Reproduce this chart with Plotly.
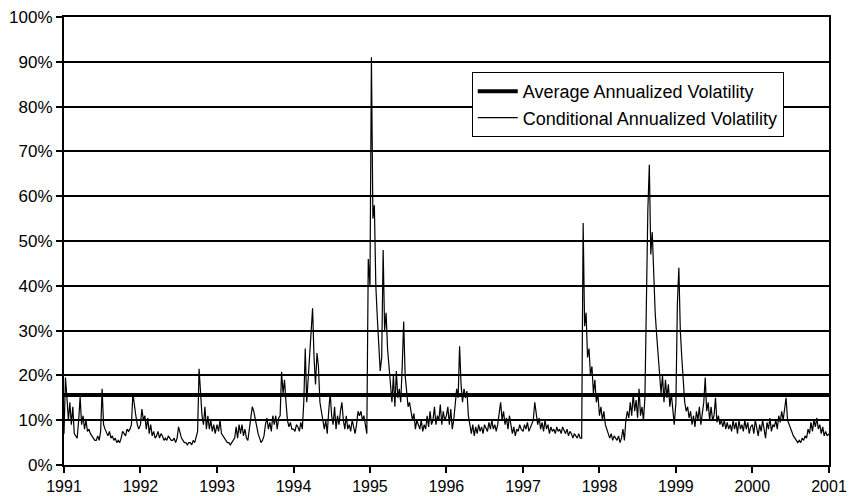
import pandas as pd
import plotly.graph_objects as go

# weekly conditional annualized volatility (%)
vol_1991 = [7, 19.5, 15, 10, 14, 9, 13, 7, 6.5, 6, 10, 15.2, 9, 11, 8, 10, 7.5, 8, 7, 6.5,
            6, 5.5, 5.5, 6.5, 5.5, 7.5, 17, 9, 8, 7, 6.5, 7.5, 6, 6.5, 5.5, 6, 5, 5.5, 5, 6,
            7.5, 7, 6.5, 8, 7.5, 8, 9, 16, 13, 11, 9, 8]
vol_1992 = [9, 12.5, 10, 11, 8, 10.5, 7, 9, 6.5, 7.5, 6, 6.5, 7.5, 6, 7, 6.5, 5.5, 6, 5.5, 6.5,
            6, 5.5, 5.5, 6, 5, 6, 8.5, 7, 6, 5.5, 5, 5, 4.5, 5, 5, 4.5, 5.5, 5, 6.5, 7.5,
            21.5, 15, 11, 9, 13, 8, 11, 8, 10, 7.5, 9, 7]
vol_1993 = [9, 7.5, 10, 7, 6.5, 6, 5.5, 5, 5, 4.5, 5, 5.5, 6, 8.5, 6, 9, 7, 9, 6.5, 8,
            6, 5.5, 8, 11, 13, 12, 10, 8, 7, 6, 5, 5.5, 6.5, 9, 10.5, 8, 9.5, 7.5, 11, 9,
            11, 8, 10.5, 11, 20.8, 16, 19, 14, 10, 8.5, 9.5, 8]
vol_1994 = [8, 7.5, 9, 8.5, 7.5, 9.5, 8, 14, 26, 14, 20, 26, 30, 35, 24, 18, 25, 22, 14, 12,
            9, 8, 10, 7, 12, 16, 11, 9, 13, 8, 11, 9, 12, 14, 10, 8, 11, 8, 9, 7.5,
            10, 8, 7, 9, 12, 11, 12, 10, 11, 9, 7, 46]
vol_1995 = [40, 91, 55, 58, 40, 33, 25, 21, 24, 48, 30, 34, 26, 22, 19, 14, 20, 13, 21, 15,
            17, 14, 22, 32, 20, 17, 13, 14, 12, 10, 11.5, 8, 10, 9, 8, 10, 7.5, 9, 8, 11,
            8.5, 12, 9, 10, 13, 9, 11, 10, 13.5, 9, 12, 10]
vol_1996 = [11, 13, 9, 12.5, 8, 10, 14, 17, 15, 26.5, 18, 14, 17, 15, 16.5, 11, 9, 7, 9, 6.5,
            8.5, 7, 9, 7.5, 8.5, 7, 9, 8, 7.5, 9.5, 8, 10, 8, 9, 7.5, 9, 11, 14, 10, 12,
            9, 10.5, 8, 11, 9, 7, 8.5, 6.5, 8, 7.5, 9, 8]
vol_1997 = [7.5, 9, 8, 9.5, 7.5, 8.5, 9, 10, 14, 11, 9, 10.5, 8, 9.5, 7.5, 10, 8, 9, 7, 8.5,
            7.5, 8, 7, 8.5, 7.5, 8, 7, 8.5, 7.5, 7, 8, 6.5, 7.5, 7, 6, 7, 6.5, 6, 7, 6,
            6, 54, 31, 34, 24, 26, 20, 22, 16, 19, 14, 16]
vol_1998 = [11, 13, 10, 12, 9, 8, 7, 6, 7, 5.5, 6.5, 6, 5.5, 6.5, 5, 6, 8, 5.5, 10, 12,
            10.5, 14, 11, 16, 12, 14.5, 10.5, 17, 11, 13, 10, 15, 38, 57, 67, 47, 52, 40, 34, 29,
            24, 20, 16, 20, 14, 19, 15, 18, 13, 16, 12, 9]
vol_1999 = [14, 36, 44, 30, 24, 19, 14, 12, 13, 10.5, 12, 9, 11, 8.5, 12, 10, 13, 9, 11, 14,
            19.5, 12, 14, 10, 13, 10, 11, 15, 9.5, 11, 9, 10, 8.5, 10, 8, 9.5, 8, 9, 7.5, 10,
            8, 9.5, 7, 10, 8, 9, 7.5, 10, 8, 9.5, 7, 8.5]
vol_2000 = [9, 7, 10, 8, 6.5, 9, 7.5, 10, 8, 6, 9.5, 8, 10.5, 7.5, 9, 8.5, 10, 8, 11, 9.5,
            12, 10, 12.5, 15, 10, 9, 8, 7, 6.5, 6, 5.5, 5, 5.5, 5, 6, 5.5, 6.5, 6, 8, 7,
            9.5, 7.5, 10, 8.5, 10.5, 8, 9, 7, 8.5, 6.5, 7.5, 6.5]
vol_end = 7

years = list(range(1991, 2001))
yearly = [vol_1991, vol_1992, vol_1993, vol_1994, vol_1995,
          vol_1996, vol_1997, vol_1998, vol_1999, vol_2000]

avg_vol = 15.6

dates = []
values = []
for yr, vals in zip(years, yearly):
    dates += list(pd.date_range(f"{yr}-01-01", periods=len(vals), freq="7D"))
    values += vals
dates.append(pd.Timestamp("2001-01-01"))
values.append(vol_end)

fig = go.Figure()

fig.add_trace(go.Scatter(
    x=[dates[0], dates[-1]],
    y=[avg_vol, avg_vol],
    mode="lines",
    line=dict(color="black", width=4),
    name="Average Annualized Volatility",
))

fig.add_trace(go.Scatter(
    x=dates,
    y=values,
    mode="lines",
    line=dict(color="black", width=1.2),
    name="Conditional Annualized Volatility",
))

fig.update_layout(
    width=849,
    height=496,
    plot_bgcolor="white",
    paper_bgcolor="white",
    font=dict(family="Liberation Sans, Arial, sans-serif", size=17, color="black"),
    margin=dict(l=64, r=20, t=17, b=31),
    legend=dict(
        x=0.533, y=0.877, xanchor="left", yanchor="top",
        bgcolor="white", bordercolor="black", borderwidth=1,
        font=dict(size=18),
        itemwidth=40,
        tracegroupgap=0,
    ),
)

fig.update_xaxes(
    type="date",
    range=["1991-01-01", "2001-01-01"],
    tickvals=[f"{y}-01-01" for y in range(1991, 2002)],
    ticktext=[str(y) for y in range(1991, 2002)],
    tickfont=dict(size=16),
    showgrid=False,
    showline=True, linecolor="black", linewidth=2, mirror=True,
    ticks="outside", ticklen=6, tickcolor="black", tickwidth=1.5,
    ticklabeloverflow="allow",
    automargin=False,
)

fig.update_yaxes(
    range=[0, 100],
    dtick=10,
    ticksuffix="%",
    showgrid=True, gridcolor="black", gridwidth=1.8,
    zeroline=False,
    showline=True, linecolor="black", linewidth=2, mirror=True,
    ticks="outside", ticklen=6, tickcolor="black", tickwidth=1.5,
    ticklabeloverflow="allow",
    automargin=False,
)

# drop the default page margin so the figure fills the window exactly
fig.write_html(
    "out.html",
    config={"displayModeBar": False},
    post_script="document.body.style.margin='0';",
)
